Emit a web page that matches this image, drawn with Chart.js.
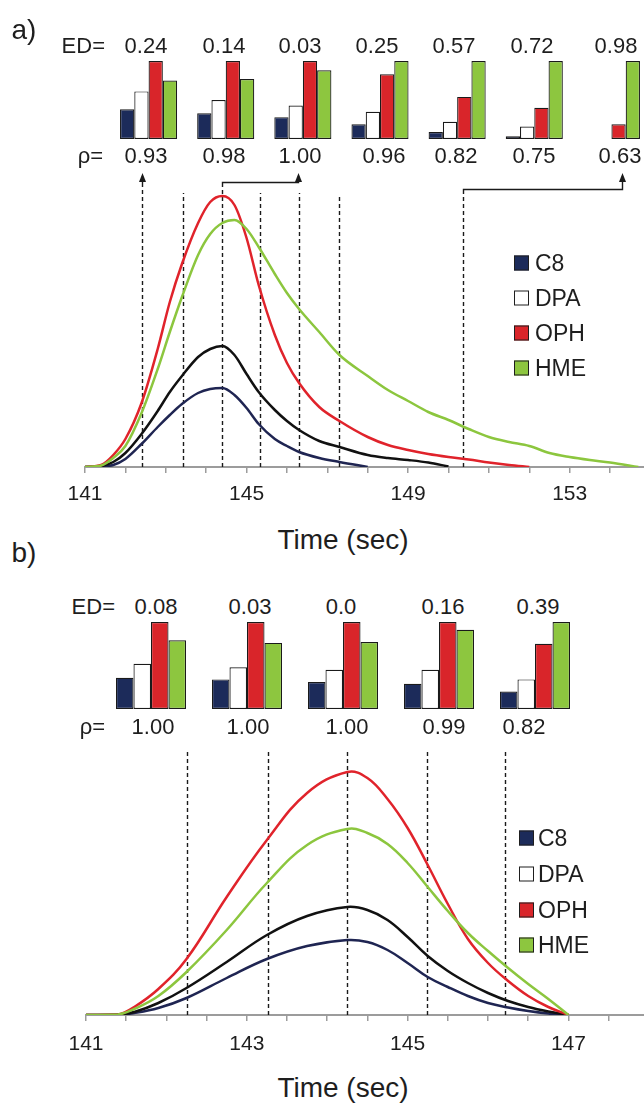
<!DOCTYPE html>
<html>
<head>
<meta charset="utf-8">
<script src="https://cdn.jsdelivr.net/npm/chart.js@4.4.0/dist/chart.umd.min.js"></script>
<style>
  html, body { margin: 0; padding: 0; background: #fff; }
  body {
    width: 644px; height: 1106px; position: relative; overflow: hidden;
    font-family: "Liberation Sans", Arial, Helvetica, sans-serif; color: #1e1e1e;
  }
  canvas { position: absolute; }
  .t { position: absolute; white-space: nowrap; line-height: 1; transform: translate(-50%, -50%); }
  .r { transform: translate(-100%, -50%); }
  .box { position: absolute; width: 15px; height: 15px; box-sizing: border-box; border: 1.5px solid #1e1e1e; transform: translateY(-50%); }
</style>
</head>
<body>
<canvas id="barsA" width="540" height="78" style="left:110px;top:61px;"></canvas>
<canvas id="lineA" width="644" height="520" style="left:0;top:0;"></canvas>
<canvas id="barsB" width="480" height="87" style="left:103px;top:622px;"></canvas>
<canvas id="lineB" width="644" height="370" style="left:0;top:700px;"></canvas>

<script>
const seriesNames = ["C8", "DPA", "OPH", "HME"];

// a) signal traces (time in sec, height in arbitrary units)
const timeA = [141, 141.4, 141.7, 142.0, 142.4, 142.8, 143.1, 143.4, 143.8, 144.1, 144.4, 144.7, 145.0,
  145.3, 145.7, 146.0, 146.3, 146.8, 147.3, 148.0, 148.5, 149.0, 149.5, 150.0, 150.5, 151.0,
  151.5, 152.0, 152.5, 153.0, 153.5, 154.0, 154.7];
const c8A  = [0, 0.5, 2, 8, 23, 40, 52, 63, 74, 78, 79, 72, 59, 43, 28, 21, 15, 9, 5, 0,
  null, null, null, null, null, null, null, null, null, null, null, null, null];
const dpaA = [0, 1, 5, 14, 33, 56, 75, 91, 110, 118, 121, 112, 93, 75, 57, 46, 37, 26, 20, 12,
  9, 7, 4.5, 0.5, null, null, null, null, null, null, null, null, null];
const ophA = [0, 2, 12, 28, 64, 118, 165, 203, 244, 265, 271, 262, 229, 182, 132, 104, 84, 60, 46, 30,
  22, 17, 13, 10, 7.5, 4.5, 2, 0, null, null, null, null, null];
const hmeA = [0, 1.5, 9, 21, 54, 98, 135, 170, 212, 233, 244, 247, 238, 220, 193, 174, 158, 135, 112, 91,
  77, 66, 55, 47, 38, 30, 25, 21, 14, 10, 7, 4.5, 0];
const cutsA = [142.42, 143.43, 144.38, 145.34, 146.31, 147.29, 150.35];
const tickValuesA = [141, 142, 143, 144, 145, 146, 147, 148, 149, 150, 151, 152, 153, 154];
const tickLabelsA = ["141", "145", "149", "153"];

// a) window profiles
const windowsA = ["1", "2", "3", "4", "5", "6", "7"];
const edA  = ["0.24", "0.14", "0.03", "0.25", "0.57", "0.72", "0.98"];
const rhoA = ["0.93", "0.98", "1.00", "0.96", "0.82", "0.75", "0.63"];
const c8BarA  = [0.38, 0.33, 0.28, 0.19, 0.09, 0.035, 0];
const dpaBarA = [0.61, 0.50, 0.43, 0.35, 0.22, 0.16, 0];
const ophBarA = [1, 1, 1, 0.83, 0.54, 0.40, 0.19];
const hmeBarA = [0.75, 0.77, 0.88, 1, 1, 1, 1];

// b) signal traces
const timeB = [141, 141.4, 141.6, 141.9, 142.25, 142.75, 143.25, 143.75, 144.25, 144.5, 144.75,
  145.0, 145.25, 145.5, 145.75, 146.0, 146.25, 146.5, 146.75, 147.0];
const c8B  = [0, 0.3, 2, 7, 17, 37, 56, 69, 75, 73, 65, 52, 38, 28, 19, 12, 7.5, 4, 1.5, 0];
const dpaB = [0, 0.5, 3, 12, 27, 53, 80, 99, 108, 105, 95, 78, 59, 44, 32, 22, 14, 8, 3.5, 0];
const ophB = [0, 0.5, 8, 26, 56, 118, 175, 222, 243, 237, 216, 187, 150, 111, 76, 52, 34, 19, 8, 0];
const hmeB = [0, 0.5, 6, 19, 43, 85, 132, 170, 186, 182, 171, 152, 128, 104, 82, 64, 47, 31, 16, 0];
const cutsB = [142.26, 143.26, 144.25, 145.24, 146.21];
const tickValuesB = [141, 141.5, 142, 142.5, 143, 143.5, 144, 144.5, 145, 145.5, 146, 146.5, 147, 147.5];
const tickLabelsB = ["141", "143", "145", "147"];

// b) window profiles
const windowsB = ["1", "2", "3", "4", "5"];
const edB  = ["0.08", "0.03", "0.0", "0.16", "0.39"];
const rhoB = ["1.00", "1.00", "1.00", "0.99", "0.82"];
const c8BarB  = [0.36, 0.34, 0.31, 0.29, 0.20];
const dpaBarB = [0.52, 0.48, 0.45, 0.45, 0.34];
const ophBarB = [1, 1, 1, 1, 0.75];
const hmeBarB = [0.79, 0.76, 0.77, 0.91, 1];

const lineColors = ["#1f2552", "#111111", "#e0232b", "#8cc63e"];
const barColors  = ["#1c2b5a", "#ffffff", "#d9252a", "#8dc63f"];
const FONT = "'Liberation Sans', Arial, Helvetica, sans-serif";

// dashed cut lines + arrows pointing to the profiles
const cutLines = {
  id: "cutLines",
  beforeDatasetsDraw(chart, args, o) {
    const {ctx} = chart, x = chart.scales.x, y = chart.scales.y;
    const y0 = y.getPixelForValue(0);
    ctx.save();
    ctx.strokeStyle = "#1a1a1a";
    ctx.lineWidth = 1.4;
    ctx.setLineDash([4, 3]);
    o.times.forEach((t, i) => {
      const px = Math.round(x.getPixelForValue(t)) + 0.5;
      ctx.beginPath();
      ctx.moveTo(px, y0);
      ctx.lineTo(px, y.getPixelForValue(o.tops[i]));
      ctx.stroke();
    });
    ctx.restore();
  },
  afterDatasetsDraw(chart, args, o) {
    if (!o.arrows) return;
    const {ctx} = chart, x = chart.scales.x, y = chart.scales.y;
    const tipY = y.getPixelForValue(o.tip);
    ctx.save();
    ctx.strokeStyle = "#1a1a1a";
    ctx.fillStyle = "#1a1a1a";
    ctx.lineWidth = 1.4;
    o.arrows.forEach(a => {
      const px = Math.round(x.getPixelForValue(o.times[a.cut])) + 0.5;
      const tx = a.to != null ? a.to + 0.5 : px;
      const bendY = Math.round(y.getPixelForValue(a.bend)) + 0.5;
      ctx.beginPath();
      ctx.moveTo(px, y.getPixelForValue(o.tops[a.cut]));
      ctx.lineTo(px, bendY);
      ctx.lineTo(tx, bendY);
      ctx.lineTo(tx, tipY + 8);
      ctx.stroke();
      ctx.beginPath();
      ctx.moveTo(tx, tipY);
      ctx.lineTo(tx - 3.5, tipY + 9);
      ctx.lineTo(tx + 3.5, tipY + 9);
      ctx.closePath();
      ctx.fill();
    });
    ctx.restore();
  }
};

function drawTraces(id, times, series, cfg) {
  const datasets = series.map((vals, i) => ({
    label: seriesNames[i],
    data: times.map((t, j) => ({x: t, y: vals[j]})),
    borderColor: lineColors[i],
    borderWidth: 2.5,
    pointRadius: 0,
    cubicInterpolationMode: cfg.tension ? "default" : "monotone",
    tension: cfg.tension || 0,
    spanGaps: false,
    fill: false
  })).reverse();

  return new Chart(document.getElementById(id), {
    type: "line",
    data: {datasets},
    plugins: [cutLines],
    options: {
      responsive: false,
      devicePixelRatio: 1,
      animation: false,
      events: [],
      layout: {padding: {left: cfg.left, top: cfg.top, right: 0, bottom: 0}},
      plugins: {
        legend: {display: false},
        tooltip: {enabled: false},
        cutLines: cfg.cuts
      },
      scales: {
        x: {
          type: "linear",
          min: cfg.min,
          max: cfg.max,
          afterBuildTicks: (scale) => { scale.ticks = cfg.ticks.map(v => ({value: v})); },
          afterFit: (scale) => { scale.height = cfg.axisHeight; },
          border: {display: true, color: "#9c9c9c", width: 2},
          grid: {drawOnChartArea: false, drawTicks: true, tickLength: 6, color: "#9c9c9c", lineWidth: 1.5},
          ticks: {
            autoSkip: false,
            maxRotation: 0,
            padding: cfg.tickPad,
            color: "#1e1e1e",
            font: {family: FONT, size: 21},
            callback: (v) => cfg.labels.includes(String(v)) ? String(v) : ""
          }
        },
        y: {display: false, min: 0, max: cfg.ymax}
      }
    }
  });
}

function drawProfiles(id, windows, bars, catPct) {
  return new Chart(document.getElementById(id), {
    type: "bar",
    data: {
      labels: windows,
      datasets: bars.map((vals, i) => ({
        label: seriesNames[i],
        data: vals,
        backgroundColor: barColors[i],
        borderColor: "#1a1a1a",
        borderWidth: 1.2,
        borderSkipped: false
      }))
    },
    options: {
      responsive: false,
      devicePixelRatio: 1,
      animation: false,
      events: [],
      layout: {padding: 0},
      datasets: {bar: {categoryPercentage: catPct, barPercentage: 1}},
      plugins: {legend: {display: false}, tooltip: {enabled: false}},
      scales: {
        x: {display: false},
        y: {display: false, min: 0, max: 1}
      }
    }
  });
}

function text(str, x, y, size, cls) {
  const d = document.createElement("div");
  d.className = "t" + (cls ? " " + cls : "");
  d.textContent = str;
  d.style.left = x + "px";
  d.style.top = y + "px";
  d.style.fontSize = size + "px";
  document.body.appendChild(d);
}

function legend(boxX, textX, rowsY) {
  seriesNames.forEach((name, i) => {
    const b = document.createElement("div");
    b.className = "box";
    b.style.left = boxX + "px";
    b.style.top = rowsY[i] + "px";
    b.style.background = barColors[i];
    document.body.appendChild(b);
    const d = document.createElement("div");
    d.className = "t";
    d.style.transform = "translate(0, -50%)";
    d.textContent = name;
    d.style.left = textX + "px";
    d.style.top = rowsY[i] + "px";
    d.style.fontSize = "23px";
    document.body.appendChild(d);
  });
}

// panel a
drawProfiles("barsA", windowsA, [c8BarA, dpaBarA, ophBarA, hmeBarA], 0.74);
drawTraces("lineA", timeA, [c8A, dpaA, ophA, hmeA], {
  left: 85, top: 160, min: 141, max: 154.84, ymax: 307, axisHeight: 53, tickPad: 9,
  ticks: tickValuesA, labels: tickLabelsA,
  cuts: {
    times: cutsA,
    tops: [280, 274, 280, 274, 274, 272, 276],
    tip: 294,
    arrows: [{cut: 0, bend: 288}, {cut: 2, bend: 285, to: 298}, {cut: 6, bend: 278, to: 622}]
  }
});

// panel b
drawProfiles("barsB", windowsB, [c8BarB, dpaBarB, ophBarB, hmeBarB], 0.73);
drawTraces("lineB", timeB, [c8B, dpaB, ophB, hmeB], {
  left: 86, top: 40, min: 141, max: 147.94, ymax: 275, axisHeight: 55, tickPad: 11,
  ticks: tickValuesB, labels: tickLabelsB, tension: 0.4,
  cuts: {times: cutsB, tops: [266, 266, 266, 266, 266]}
});

// annotations
const edXA = [146, 224, 300, 377, 454, 532, 616];
const rhoXA = [146, 224, 300, 384, 456, 534, 620];
const edXB = [156, 250, 341, 443, 538];
const rhoXB = [153, 248, 347, 444, 524];

text("a)", 24, 30, 28);
text("ED=", 105, 46, 22, "r");
text("\u03c1=", 103, 156, 22, "r");
edA.forEach((v, i) => text(v, edXA[i], 46, 22));
rhoA.forEach((v, i) => text(v, rhoXA[i], 156, 22));
text("Time (sec)", 343, 540, 28);
legend(514, 535, [263, 298, 333, 368]);

text("b)", 24, 553, 28);
text("ED=", 115, 607, 22, "r");
text("\u03c1=", 105, 727, 22, "r");
edB.forEach((v, i) => text(v, edXB[i], 607, 22));
rhoB.forEach((v, i) => text(v, rhoXB[i], 727, 22));
text("Time (sec)", 343, 1088, 28);
legend(519, 538, [838, 874, 910, 945]);
</script>
</body>
</html>
